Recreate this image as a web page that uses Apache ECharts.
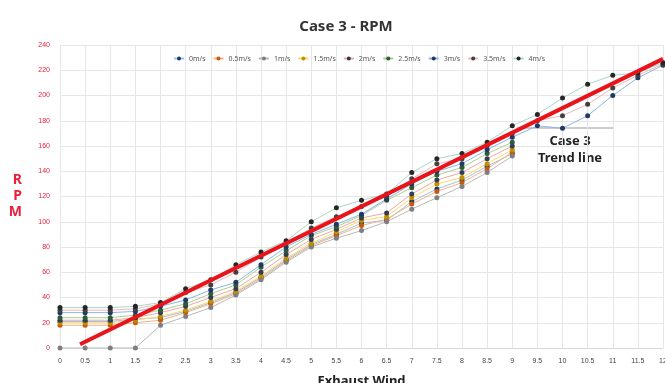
<!DOCTYPE html>
<html>
<head>
<meta charset="utf-8">
<script src="https://cdn.jsdelivr.net/npm/echarts@6/dist/echarts.min.js"></script>
<style>
  html, body { margin: 0; padding: 0; background: #fff; }
  #chart { width: 665px; height: 383px; }
</style>
</head>
<body>
<div id="chart"></div>
<script>
// exhaust wind (x axis)
var winds = [0, 0.5, 1, 1.5, 2, 2.5, 3, 3.5, 4, 4.5, 5, 5.5, 6, 6.5, 7, 7.5, 8, 8.5, 9, 9.5, 10, 10.5, 11, 11.5, 12]
var names = ['0m/s', '0.5m/s', '1m/s', '1.5m/s', '2m/s', '2.5m/s', '3m/s', '3.5m/s', '4m/s']

// rpm, one array per wind speed
var rpm0 = [21, 21, 21, 23, 24, 29, 36, 44, 56, 70, 82, 90, 99, 101, 116, 126, 133, 144, 154]
var rpm05 = [18, 18, 18, 20, 22, 28, 35, 43, 55, 69, 81, 89, 97, 102, 114, 124, 131, 142, 155]
var rpm1 = [0, 0, 0, 0, 18, 25, 32, 42, 54, 68, 80, 87, 93, 100, 110, 119, 128, 139, 152]
var rpm15 = [20, 20, 20, 22, 25, 30, 37, 45, 57, 71, 83, 92, 101, 104, 119, 130, 135, 146, 157]
var rpm2 = [22, 22, 22, 24, 28, 33, 40, 47, 60, 74, 86, 94, 103, 107, 122, 133, 139, 150, 160]
var rpm25 = [24, 24, 24, 26, 30, 35, 43, 50, 64, 77, 89, 96, 105, 117, 127, 137, 143, 154, 163]
var rpm3 = [28, 28, 28, 29, 33, 38, 46, 52, 66, 80, 90, 98, 106, 118, 130, 140, 146, 157, 167, 176, 174, 184, 200, 214, 224]
var rpm35 = [30, 30, 30, 31, 35, 44, 50, 60, 72, 83, 95, 104, 112, 120, 134, 146, 150, 160, 170, 180, 184, 193, 206, 216, 225]
var rpm4 = [32, 32, 32, 33, 36, 47, 54, 66, 76, 85, 100, 111, 117, 122, 139, 150, 154, 163, 176, 185, 198, 209, 216, 218, 226]

// trend line end points
var trendX = [0.4, 12]
var trendY = [3, 229]

var allRpm = [rpm0, rpm05, rpm1, rpm15, rpm2, rpm25, rpm3, rpm35, rpm4]
var lineColor = ['#9dc3e6', '#f4b183', '#b7b7b7', '#ffd966', '#f4a6a6', '#a9d18e', '#8fb4e3', '#f2b8b8', '#a9d8c8']
var dotColor = ['#1f3864', '#c55a11', '#7f7f7f', '#bf9000', '#2f3e55', '#2f5a3a', '#203864', '#404040', '#262626']

var chart = echarts.init(document.getElementById('chart'))

var series = allRpm.map(function (vals, i) {
  return {
    name: names[i],
    type: 'line',
    data: vals.map(function (v, j) { return [winds[j], v] }),
    symbol: 'circle',
    symbolSize: 5,
    lineStyle: { color: lineColor[i], width: 1 },
    itemStyle: { color: dotColor[i] },
    z: 3
  }
})

series.push({
  name: 'trend',
  type: 'line',
  data: trendX.map(function (x, i) { return [x, trendY[i]] }),
  symbol: 'none',
  lineStyle: { color: '#e8141c', width: 4 },
  z: 5
})

chart.setOption({
  backgroundColor: '#fff',
  animation: false,
  title: {
    text: 'Case 3 - RPM',
    left: 341,
    top: 14,
    textAlign: 'center',
    textStyle: { fontSize: 15, fontWeight: 'bold', color: '#333', fontFamily: 'Noto Sans' }
  },
  legend: {
    data: names,
    left: 168,
    top: 50,
    itemWidth: 10,
    itemHeight: 5,
    itemGap: 7,
    textStyle: { fontSize: 7, color: '#555', fontFamily: 'Noto Sans' }
  },
  grid: {
    left: 60,
    right: 2,
    top: 45,
    bottom: 35,
    outerBoundsMode: 'none'
  },
  xAxis: {
    type: 'value',
    min: 0,
    max: 12,
    interval: 0.5,
    name: 'Exhaust Wind',
    nameLocation: 'middle',
    nameGap: 27,
    nameTextStyle: { fontSize: 13, fontWeight: 'bold', color: '#222', fontFamily: 'Noto Sans' },
    axisLine: { lineStyle: { color: '#d9d9d9' } },
    axisTick: { show: false },
    axisLabel: { fontSize: 7, color: '#444', margin: 10 },
    splitLine: { show: true, lineStyle: { color: '#e6e6e6' } }
  },
  yAxis: {
    type: 'value',
    min: 0,
    max: 240,
    interval: 20,
    name: 'R\nP\nM',
    nameLocation: 'middle',
    nameRotate: 0,
    nameGap: 38,
    nameTextStyle: { fontSize: 14, fontWeight: 'bold', color: '#e8203a', lineHeight: 16, fontFamily: 'Noto Sans' },
    axisLine: { show: false },
    axisTick: { show: false },
    axisLabel: { fontSize: 7, color: '#e8203a', margin: 10 },
    splitLine: { lineStyle: { color: '#e6e6e6' } }
  },
  graphic: [
    {
      type: 'line',
      shape: { x1: 517, y1: 128, x2: 613, y2: 128 },
      style: { stroke: '#999', lineWidth: 1 }
    },
    {
      type: 'text',
      x: 570,
      y: 141,
      style: { text: 'Case 3', fontSize: 13, fontWeight: 'bold', fill: '#222', align: 'center', verticalAlign: 'middle', fontFamily: 'Noto Sans' }
    },
    {
      type: 'text',
      x: 570,
      y: 158,
      style: { text: 'Trend line', fontSize: 13, fontWeight: 'bold', fill: '#222', align: 'center', verticalAlign: 'middle', fontFamily: 'Noto Sans' }
    }
  ],
  series: series
})
</script>
</body>
</html>
